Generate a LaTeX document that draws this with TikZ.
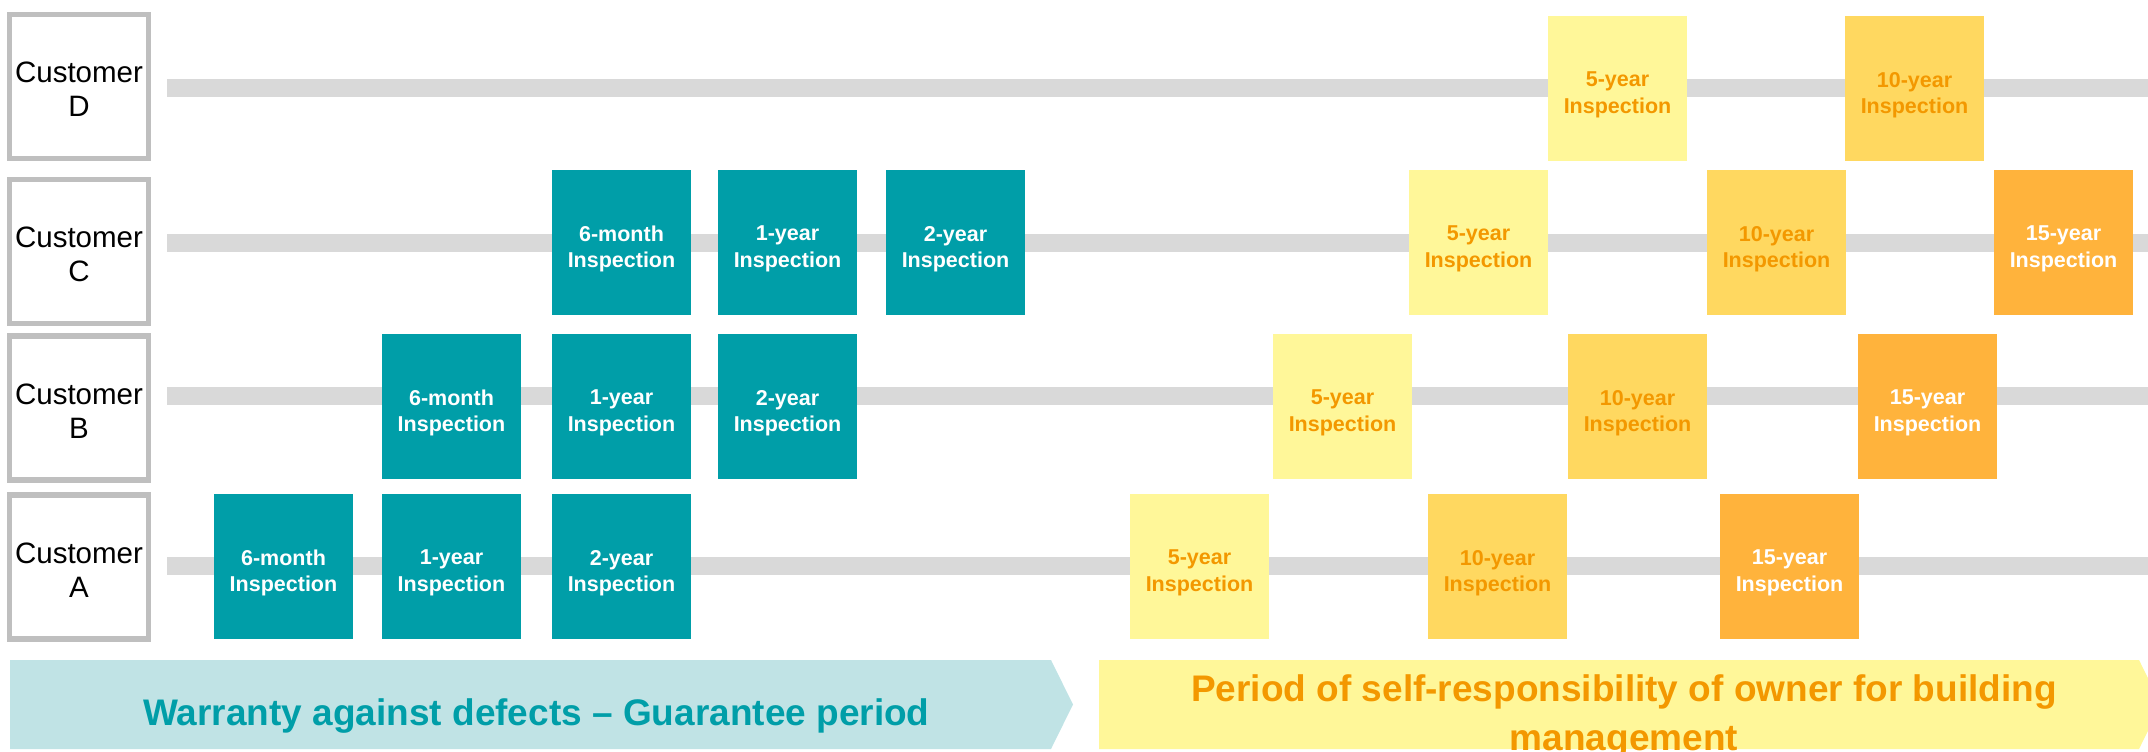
\documentclass[tikz,border=0pt]{standalone}
\usepackage{fontspec}
\setmainfont{Liberation Sans}
\definecolor{tealbox}{HTML}{009EA8}
\definecolor{tealband}{HTML}{C0E3E5}
\definecolor{yelbox}{HTML}{FFF799}
\definecolor{midbox}{HTML}{FFD860}
\definecolor{orabox}{HTML}{FFB33C}
\definecolor{oratext}{HTML}{F39800}
\definecolor{custframe}{HTML}{BFBFBF}
\definecolor{tline}{HTML}{D9D9D9}
\tikzset{
  custbox/.style={draw=custframe, line width=5.3pt, fill=white, minimum width=138.7pt, minimum height=144pt, inner sep=0pt},
  custtext/.style={font=\fontsize{29.5}{34}\selectfont, align=center, text=black, inner sep=0pt},
  ibox/.style={minimum width=139pt, minimum height=145pt, inner sep=0pt, outer sep=0pt, anchor=north west},
  itext/.style={font=\fontsize{21.5}{26.5}\selectfont\bfseries, align=center, inner sep=0pt},
  timeline/.style={draw=tline, line width=18pt},
  bandtext/.style={font=\fontsize{37}{49}\selectfont\bfseries, align=center, inner sep=0pt}
}
\newcommand{\inspbox}[7]{%
  \node[ibox, fill=#4] (#1) at (#2,#3) {};
  \node[itext, text=#5] (#1t) at ([yshift=-6.5pt]#1.center) {#6\\#7};
}
\begin{document}
\begin{tikzpicture}[x=1pt,y=-1pt]
\useasboundingbox (0,0) rectangle (2148,752);
% timelines
\coordinate (Ds) at (167,88);  \coordinate (De) at (2148,88);
\coordinate (Cs) at (167,243); \coordinate (Ce) at (2148,243);
\coordinate (Bs) at (167,396); \coordinate (Be) at (2148,396);
\coordinate (As) at (167,566); \coordinate (Ae) at (2148,566);
\draw[timeline] (Ds) -- (De);
\draw[timeline] (Cs) -- (Ce);
\draw[timeline] (Bs) -- (Be);
\draw[timeline] (As) -- (Ae);
% customers
\node[custbox, label={[custtext, yshift=-3pt, name=custDt]center:Customer\\D}] (custD) at (79,86.5) {};
\node[custbox, label={[custtext, yshift=-3pt, name=custCt]center:Customer\\C}] (custC) at (79,251.5) {};
\node[custbox, label={[custtext, yshift=-3pt, name=custBt]center:Customer\\B}] (custB) at (79,408) {};
\node[custbox, label={[custtext, yshift=-3pt, name=custAt]center:Customer\\A}] (custA) at (79,567) {};
% teal inspections
\inspbox{a6}{214}{494}{tealbox}{white}{6-month}{Inspection}
\inspbox{a1}{382}{494}{tealbox}{white}{1-year}{Inspection}
\inspbox{a2}{552}{494}{tealbox}{white}{2-year}{Inspection}
\inspbox{b6}{382}{334}{tealbox}{white}{6-month}{Inspection}
\inspbox{b1}{552}{334}{tealbox}{white}{1-year}{Inspection}
\inspbox{b2}{718}{334}{tealbox}{white}{2-year}{Inspection}
\inspbox{c6}{552}{170}{tealbox}{white}{6-month}{Inspection}
\inspbox{c1}{718}{170}{tealbox}{white}{1-year}{Inspection}
\inspbox{c2}{886}{170}{tealbox}{white}{2-year}{Inspection}
% yellow / orange inspections
\inspbox{a5}{1130}{494}{yelbox}{oratext}{5-year}{Inspection}
\inspbox{a10}{1428}{494}{midbox}{oratext}{10-year}{Inspection}
\inspbox{a15}{1720}{494}{orabox}{white}{15-year}{Inspection}
\inspbox{b5}{1273}{334}{yelbox}{oratext}{5-year}{Inspection}
\inspbox{b10}{1568}{334}{midbox}{oratext}{10-year}{Inspection}
\inspbox{b15}{1858}{334}{orabox}{white}{15-year}{Inspection}
\inspbox{c5}{1409}{170}{yelbox}{oratext}{5-year}{Inspection}
\inspbox{c10}{1707}{170}{midbox}{oratext}{10-year}{Inspection}
\inspbox{c15}{1994}{170}{orabox}{white}{15-year}{Inspection}
\inspbox{d5}{1548}{16}{yelbox}{oratext}{5-year}{Inspection}
\inspbox{d10}{1845}{16}{midbox}{oratext}{10-year}{Inspection}
% bands
\fill[tealband] (10,660) -- (1051,660) -- (1073,704.5) -- (1051,749) -- (10,749) -- cycle;
\node[bandtext, text=tealbox, anchor=base] (warranty) at (536.5,725) {Warranty against defects -- Guarantee period};
\fill[yelbox] (1099,660) -- (2139,660) -- (2161,704.5) -- (2139,749) -- (1099,749) -- cycle;
\node[bandtext, text=oratext] (selfresp) at (1624,717) {Period of self-responsibility of owner for building\\management};
\end{tikzpicture}
\end{document}
